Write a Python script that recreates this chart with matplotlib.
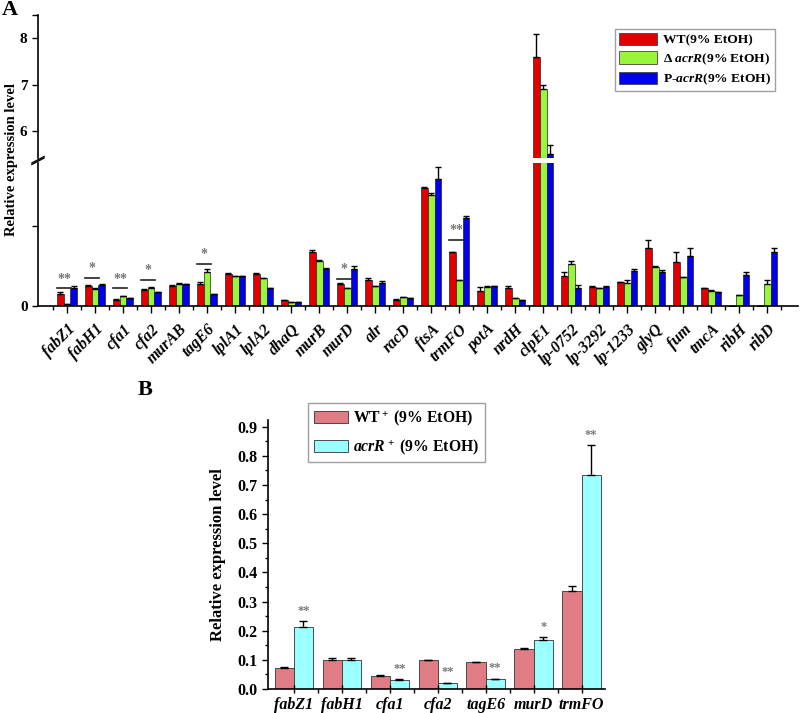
import numpy as np
import matplotlib
matplotlib.use('Agg')
import matplotlib.pyplot as plt
from matplotlib.patches import Patch

plt.rcParams['font.family'] = ['Liberation Serif', 'DejaVu Serif']
plt.rcParams['font.weight'] = 'bold'
plt.rcParams['axes.labelweight'] = 'bold'
plt.rcParams['mathtext.fontset'] = 'custom'
plt.rcParams['mathtext.rm'] = 'Liberation Serif:bold'
plt.rcParams['mathtext.it'] = 'Liberation Serif:italic:bold'
plt.rcParams['mathtext.bf'] = 'Liberation Serif:bold'

# ---- panel A data ----
genes_a = ['fabZ1', 'fabH1', 'cfa1', 'cfa2', 'murAB', 'tagE6', 'lplA1', 'lplA2', 'dhaQ',
           'murB', 'murD', 'alr', 'racD', 'ftsA', 'trmFO', 'potA', 'nrdH', 'clpE1',
           'lp-0752', 'lp-3292', 'lp-1233', 'glyQ', 'fum', 'tmcA', 'ribH', 'ribD']
wt = [0.15, 0.25, 0.075, 0.20, 0.25, 0.28, 0.40, 0.40, 0.07, 0.68, 0.28, 0.33, 0.08,
      1.48, 0.67, 0.19, 0.23, 7.59, 0.38, 0.24, 0.30, 0.73, 0.55, 0.22, 0.0, 0.0]
wt_err = [0.02, 0.01, 0.01, 0.01, 0.01, 0.02, 0.01, 0.01, 0.01, 0.02, 0.01, 0.02, 0.01,
          0.01, 0.01, 0.045, 0.025, 0.5, 0.05, 0.01, 0.005, 0.09, 0.12, 0.01, 0.0, 0.0]
dacr = [0.03, 0.21, 0.12, 0.23, 0.28, 0.43, 0.37, 0.35, 0.05, 0.56, 0.23, 0.25, 0.11,
        1.39, 0.33, 0.24, 0.10, 6.90, 0.52, 0.22, 0.29, 0.49, 0.36, 0.19, 0.14, 0.28]
dacr_err = [0.0, 0.01, 0.01, 0.01, 0.01, 0.035, 0.01, 0.0, 0.0, 0.02, 0.0, 0.0, 0.0,
            0.03, 0.0, 0.005, 0.0, 0.09, 0.04, 0.005, 0.03, 0.01, 0.0, 0.01, 0.0, 0.05]
pacr = [0.23, 0.26, 0.10, 0.17, 0.27, 0.15, 0.38, 0.22, 0.05, 0.46, 0.46, 0.29, 0.10,
        1.59, 1.10, 0.25, 0.075, 5.50, 0.23, 0.24, 0.44, 0.42, 0.62, 0.17, 0.39, 0.67]
pacr_err = [0.02, 0.01, 0.005, 0.005, 0.01, 0.0, 0.0, 0.0, 0.0, 0.02, 0.035, 0.02, 0.0,
            0.15, 0.03, 0.005, 0.0, 0.2, 0.03, 0.005, 0.02, 0.03, 0.1, 0.0, 0.03, 0.05]
# significance marks: gene, text, height of bracket line
sig_a = [('fabZ1', '**', 0.22), ('fabH1', '*', 0.35), ('cfa1', '**', 0.22),
         ('cfa2', '*', 0.33), ('tagE6', '*', 0.53), ('murD', '*', 0.34), ('trmFO', '**', 0.83)]

# ---- panel B data ----
genes_b = ['fabZ1', 'fabH1', 'cfa1', 'cfa2', 'tagE6', 'murD', 'trmFO']
wt_b = [0.073, 0.098, 0.046, 0.098, 0.091, 0.137, 0.335]
wt_b_err = [0.002, 0.01, 0.002, 0.002, 0.002, 0.002, 0.02]
acr_b = [0.213, 0.100, 0.032, 0.021, 0.034, 0.167, 0.735]
acr_b_err = [0.019, 0.008, 0.002, 0.001, 0.002, 0.011, 0.103]
sig_b = ['**', '', '**', '**', '**', '*', '**']

fig = plt.figure(figsize=(8, 7.13), dpi=100)
W, H = 800, 713

def fa(l, t, r, b):
    return fig.add_axes([l / W, 1 - b / H, (r - l) / W, (b - t) / H])

ax_top = fa(38, 15, 798, 158)
ax_low = fa(38, 163, 798, 306)

colors_a = ['#E00000', '#99F53C', '#0000EE']
labels_a = ['WT(9% EtOH)', r'Δ $acrR$(9% EtOH)', r'P-$acrR$(9% EtOH)']
x = np.arange(len(genes_a))
w = 0.24
for ax in (ax_top, ax_low):
    for k, (vals, errs) in enumerate([(wt, wt_err), (dacr, dacr_err), (pacr, pacr_err)]):
        ax.bar(x + (k - 1) * w, vals, w, color=colors_a[k], edgecolor='#222222', linewidth=0.5,
               yerr=[np.zeros(len(errs)), errs], capsize=2.5,
               error_kw=dict(elinewidth=1, capthick=1, ecolor='black'))
    ax.set_xlim(-1.04, 26.1)
    ax.spines['top'].set_visible(False)
    ax.spines['right'].set_visible(False)
    ax.tick_params(axis='y', direction='out', length=4, width=1, labelsize=11)

ax_top.set_ylim(5.42, 8.5)
ax_top.set_yticks([6, 7, 8, 8.5])
ax_top.set_yticklabels(['6', '7', '8', ''])
ax_top.spines['bottom'].set_visible(False)
ax_top.set_xticks([])

ax_low.set_ylim(0, 1.79)
ax_low.set_yticks([0, 1])
ax_low.set_yticklabels(['0', ''])
ax_low.set_xticks(x)
ax_low.set_xticks(np.arange(-0.5, 26.1, 1), minor=True)
ax_low.tick_params(axis='x', which='major', direction='out', length=5, width=1, pad=6)
ax_low.tick_params(axis='x', which='minor', direction='out', length=3, width=1)
ax_low.set_xticklabels(genes_a, rotation=45, ha='right', va='top', rotation_mode='anchor',
                       fontstyle='italic', fontsize=11.5)
for sp in ax_low.spines.values():
    sp.set_linewidth(1.2)
ax_top.spines['left'].set_linewidth(1.2)

# break marks
d = 0.008
ax_top.plot([-d, d], [-0.045, 0.0], transform=ax_top.transAxes, color='black', lw=1, clip_on=False)
ax_low.plot([-d, d], [1.0, 1.045], transform=ax_low.transAxes, color='black', lw=1, clip_on=False)

for g, txt, h in sig_a:
    i = genes_a.index(g)
    ax_low.plot([i - 0.36, i + 0.15], [h, h], color='#222222', lw=1.2)
    ax_low.annotate(txt, (i - 0.1, h), xytext=(0, 2), textcoords='offset points',
                    ha='center', va='bottom', color='#777777', fontsize=10)

ax_top.legend(handles=[Patch(facecolor=c, edgecolor='#444444', linewidth=0.6) for c in colors_a],
              labels=labels_a, loc='upper left', bbox_to_anchor=(0.759, 0.902),
              borderaxespad=0, fontsize=9.7, frameon=True, fancybox=False, edgecolor='#888888',
              handlelength=2.8, handleheight=1.0, borderpad=0.3, labelspacing=0.35,
              handletextpad=0.45)

fig.text(12 / W, 1 - 160 / H, 'Relative expression level', rotation=90, ha='center', va='center',
         fontsize=10.5, fontweight='bold')
fig.text(2 / W, 1 - 10 / H, 'A', fontsize=16, ha='left', va='center', fontweight='bold')

# ---- panel B ----
ax_b = fa(268, 420, 605, 689)
xb = np.arange(len(genes_b))
wb = 0.4
ax_b.bar(xb - wb / 2, wt_b, wb, color='#E07C84', edgecolor='#333333', linewidth=0.6,
         yerr=[np.zeros(len(wt_b_err)), wt_b_err], capsize=3,
         error_kw=dict(elinewidth=1, capthick=1, ecolor='black'), label=r'WT$^+$ (9% EtOH)')
ax_b.bar(xb + wb / 2, acr_b, wb, color='#99FFFF', edgecolor='#333333', linewidth=0.6,
         yerr=[np.zeros(len(acr_b_err)), acr_b_err], capsize=3,
         error_kw=dict(elinewidth=1, capthick=1, ecolor='black'), label=r'$acrR^+$ (9% EtOH)')
for i, s in enumerate(sig_b):
    if s:
        ax_b.annotate(s, (i + wb / 2, acr_b[i] + acr_b_err[i]), xytext=(0, 3),
                      textcoords='offset points', ha='center', va='bottom',
                      color='#777777', fontsize=9)
ax_b.set_xlim(-0.54, 6.49)
ax_b.set_ylim(0, 0.923)
ax_b.set_yticks(np.arange(0, 0.91, 0.1))
ax_b.set_yticklabels([f'{v:.1f}' for v in np.arange(0, 0.91, 0.1)])
ax_b.set_yticks(np.arange(0.05, 0.91, 0.1), minor=True)
ax_b.set_xticks(xb)
ax_b.set_xticks(np.arange(0.5, 6.5, 1), minor=True)
ax_b.set_xticklabels(genes_b, fontstyle='italic', fontsize=11.5)
ax_b.tick_params(axis='y', which='major', direction='out', length=4, width=1, labelsize=11.5)
ax_b.tick_params(axis='y', which='minor', direction='out', length=2, width=1)
ax_b.tick_params(axis='x', which='major', direction='inout', length=6, width=1, pad=3)
ax_b.tick_params(axis='x', which='minor', direction='out', length=3, width=1)
ax_b.spines['top'].set_visible(False)
ax_b.spines['right'].set_visible(False)
for sp in ax_b.spines.values():
    sp.set_linewidth(1.2)
ax_b.set_ylabel('Relative expression level', fontsize=12, fontweight='bold', labelpad=8)
ax_b.legend(loc='upper left', bbox_to_anchor=(0.119, 1.063), borderaxespad=0, fontsize=11.3,
            frameon=True, fancybox=False, edgecolor='#888888', handlelength=2.2,
            handleheight=0.8, borderpad=0.35, labelspacing=0.55, handletextpad=0.3)
fig.text(138 / W, 1 - 390 / H, 'B', fontsize=16, ha='left', va='center', fontweight='bold')

fig.savefig('out.png', dpi=100)
